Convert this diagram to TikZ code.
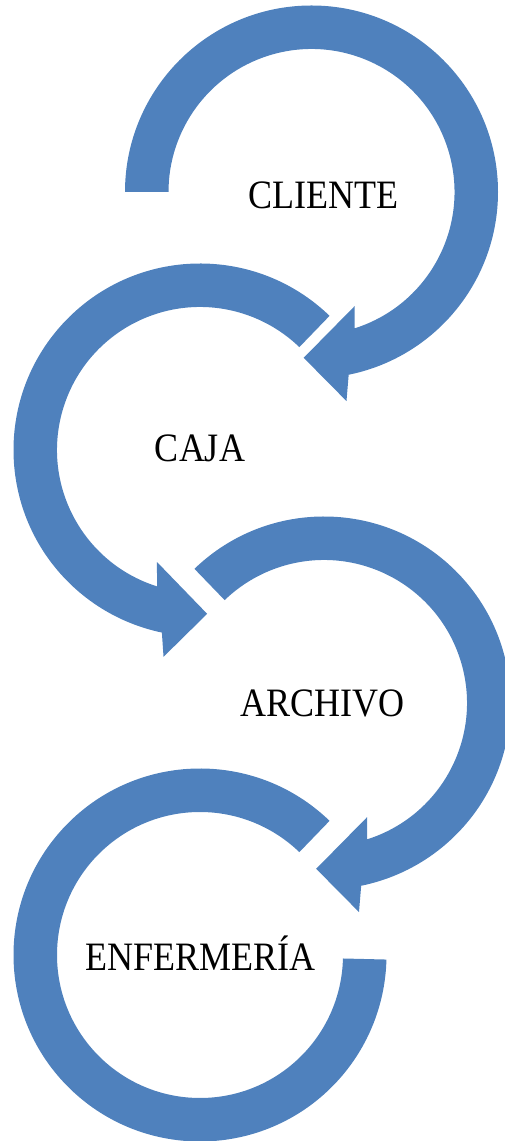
\documentclass[tikz,border=0pt]{standalone}
\usepackage{fontspec}
\setmainfont{Liberation Serif}
\definecolor{arrowblue}{RGB}{79,129,189}
\begin{document}
\begin{tikzpicture}[x=1pt, y=1pt, arrowring/.style={fill=arrowblue}, steptext/.style={anchor=base, yscale=1.12, font=\fontsize{36}{40}\selectfont}]
    \clip (0,0) rectangle (505,1141);
    \fill[arrowring, shift={(311.5,949)}] (180:186.5) arc[start angle=180, end angle=-78.5, radius=186.5] -- (-80.5:212) -- (-92.7:166) -- (-69.3:122) -- (-72.5:143) arc[start angle=-72.5, end angle=180, radius=143] -- cycle;
    \fill[arrowring, shift={(200,691)}] (46:186.5) arc[start angle=46, end angle=258.2, radius=186.5] -- (260:210) -- (272.5:164) -- (249:120) -- (252.5:143) arc[start angle=252.5, end angle=46, radius=143] -- cycle;
    \fill[arrowring, shift={(324,438)}] (134:186.5) arc[start angle=134, end angle=-78.5, radius=186.5] -- (-80.5:212) -- (-92.7:166) -- (-69.3:122) -- (-72.5:143) arc[start angle=-72.5, end angle=134, radius=143] -- cycle;
    \fill[arrowring, shift={(200,186)}] (46:186.5) arc[start angle=46, end angle=358.6, radius=186.5] -- (358.6:143) arc[start angle=358.6, end angle=46, radius=143] -- cycle;

    \node[steptext] (CL) at (323,932) {CLIENTE};
    \node[steptext] (CA) at (200,679) {CAJA};
    \node[steptext] (AR) at (322.5,424) {ARCHIVO};
    \node[steptext] (EN) at (200.5,170) {ENFERMERÍA};
\end{tikzpicture}
\end{document}
